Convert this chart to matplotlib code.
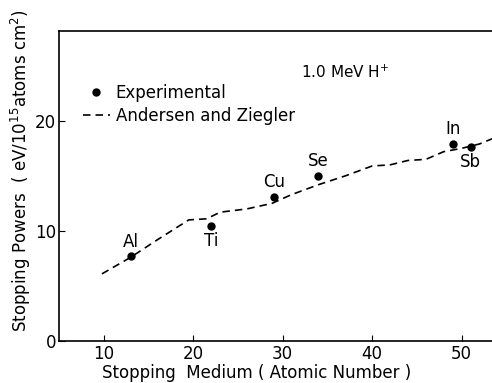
import numpy as np
import matplotlib
matplotlib.use('Agg')
import matplotlib.pyplot as plt

plt.rcParams['font.family'] = ['DejaVu Sans']

# 実験値
elements = ['Al', 'Ti', 'Cu', 'Se', 'In', 'Sb']
z_exp = [13, 22, 29, 34, 49, 51]
s_exp = [7.7, 10.45, 13.1, 15.0, 17.9, 17.6]
label_above = [True, False, True, True, True, False]

# Andersen and Ziegler
z_az = [9.8, 13, 16, 19.5, 21.5, 23, 26, 28.8, 31, 34, 37, 40, 42, 44, 46, 48, 50, 52, 53.5]
s_az = [6.1, 7.6, 9.2, 11.0, 11.1, 11.7, 12.0, 12.5, 13.3, 14.2, 15.0, 15.9, 16.0, 16.4, 16.5, 17.2, 17.5, 17.9, 18.4]

fig = plt.figure(figsize=(4.92, 3.83), dpi=100)
ax = fig.add_axes([0.12, 0.1097, 0.88, 0.809])

ax.plot(z_az, s_az, linestyle=(0, (4.5, 3)), color='black', lw=1.2,
        label='Andersen and Ziegler')
ax.plot(z_exp, s_exp, 'o', color='black', ms=5, label='Experimental')

for name, z, s, up in zip(elements, z_exp, s_exp, label_above):
    if up:
        ax.annotate(name, (z, s), xytext=(0, 4), textcoords='offset points',
                    ha='center', va='bottom', fontsize=12)
    else:
        ax.annotate(name, (z, s), xytext=(0, -4), textcoords='offset points',
                    ha='center', va='top', fontsize=12)

ax.set_xlim(5, 53.4)
ax.set_ylim(0, 28.15)
ax.set_xticks([10, 20, 30, 40, 50])
ax.set_yticks([0, 10, 20])
ax.tick_params(direction='in', length=4, labelsize=12)
ax.tick_params(axis='x', pad=3)
ax.tick_params(axis='y', pad=2)
ax.spines['right'].set_visible(False)
for sp in ['left', 'bottom', 'top']:
    ax.spines[sp].set_linewidth(1.2)

ax.set_xlabel('Stopping  Medium ( Atomic Number )', fontsize=12)
ax.xaxis.set_label_coords(0.457, -0.075)
ax.set_ylabel('Stopping Powers  ( eV/10$^{15}$atoms cm$^{2}$)', fontsize=12)
ax.yaxis.set_label_coords(-0.06, 0.55)

ax.text(32.1, 23.9, '1.0 MeV H$^{+}$', fontsize=11)

h, l = ax.get_legend_handles_labels()
ax.legend(h[::-1], l[::-1], loc='upper left', bbox_to_anchor=(0.04, 0.85),
          frameon=False, fontsize=12, handlelength=1.6, handletextpad=0.35,
          labelspacing=0.3, borderaxespad=0)

fig.savefig('out.png', dpi=100)
